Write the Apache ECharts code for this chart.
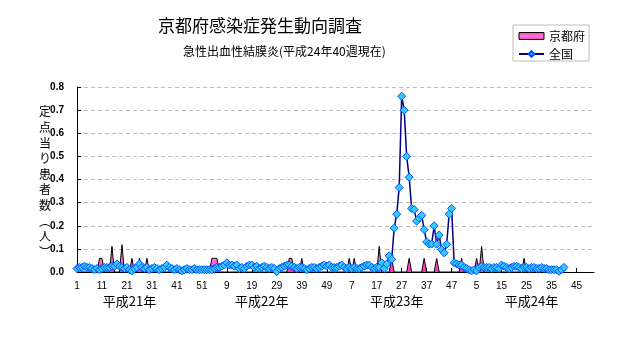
<!DOCTYPE html>
<html>
<head>
<meta charset="utf-8">
<script src="https://cdn.jsdelivr.net/npm/echarts@6/dist/echarts.min.js"></script>
<style>
  html, body { margin: 0; padding: 0; background: #fff; }
  #chart { width: 632px; height: 348px; }
</style>
</head>
<body>
<div id="chart"></div>
<script>
// Surveillance weeks per year on the axis (H21 .. H24)
const yearNames = ['平成21年', '平成22年', '平成23年', '平成24年'];
const weeksPerYear = [52, 52, 52, 52];
// category index under which each year caption sits
const yearLabelIndex = [21, 74, 128, 182];

// Per-sentinel patients, nationwide (全国)
const national2009 = [
  0.015, 0.02, 0.02, 0.025, 0.02, 0.02, 0.015, 0.01, 0.015, 0.01,
  0.015, 0.02, 0.02, 0.02, 0.025, 0.025, 0.035, 0.025, 0.02, 0.015,
  0.02, 0.01, 0.005, 0.015, 0.02, 0.035, 0.02, 0.015, 0.02, 0.01,
  0.015, 0.02, 0.015, 0.01, 0.015, 0.02, 0.03, 0.02, 0.015, 0.01,
  0.015, 0.01, 0.005, 0.01, 0.015, 0.01, 0.01, 0.015, 0.01, 0.01,
  0.01, 0.01
];
const national2010 = [
  0.01, 0.01, 0.01, 0.015, 0.02, 0.02, 0.025, 0.03, 0.04, 0.03,
  0.03, 0.025, 0.03, 0.015, 0.02, 0.015, 0.025, 0.03, 0.03, 0.02,
  0.025, 0.015, 0.02, 0.025, 0.02, 0.015, 0.02, 0.015, 0.002, 0.015,
  0.02, 0.025, 0.03, 0.03, 0.025, 0.02, 0.015, 0.02, 0.02, 0.015,
  0.01, 0.015, 0.02, 0.02, 0.015, 0.02, 0.025, 0.03, 0.025, 0.03,
  0.02, 0.02
];
const national2011 = [
  0.02, 0.025, 0.03, 0.02, 0.015, 0.02, 0.015, 0.02, 0.015, 0.015,
  0.02, 0.025, 0.03, 0.03, 0.02, 0.015, 0.02, 0.02, 0.04, 0.015,
  0.035, 0.07, 0.055, 0.19, 0.25, 0.365, 0.76, 0.70, 0.50, 0.41,
  0.275, 0.27, 0.22, 0.233, 0.245, 0.183, 0.13, 0.121, 0.121, 0.20,
  0.12, 0.16, 0.097, 0.083, 0.12, 0.25, 0.275, 0.04, 0.035, 0.03,
  0.03, 0.02
];
const national2012 = [
  0.015, 0.01, 0.005, 0.01, 0.005, 0.02, 0.025, 0.02, 0.02, 0.02,
  0.015, 0.02, 0.02, 0.015, 0.03, 0.025, 0.02, 0.015, 0.02, 0.025,
  0.025, 0.02, 0.015, 0.02, 0.02, 0.015, 0.02, 0.02, 0.015, 0.015,
  0.02, 0.015, 0.015, 0.01, 0.01, 0.01, 0.01, 0.003, 0.01, 0.02
];

// Per-sentinel patients, Kyoto prefecture (京都府)
const kyoto2009 = [
  0, 0, 0, 0, 0, 0, 0, 0, 0, 0.059,
  0.059, 0, 0, 0, 0.111, 0, 0, 0, 0.118, 0,
  0, 0, 0.059, 0, 0, 0.059, 0, 0, 0.059, 0,
  0, 0, 0, 0, 0, 0, 0, 0, 0, 0,
  0, 0, 0, 0, 0, 0, 0, 0, 0, 0,
  0, 0
];
const kyoto2010 = [
  0, 0, 0.059, 0.059, 0.059, 0, 0, 0, 0, 0,
  0, 0, 0, 0, 0, 0, 0, 0, 0, 0,
  0, 0, 0, 0, 0, 0, 0, 0, 0, 0,
  0, 0, 0, 0.059, 0.059, 0, 0, 0, 0.059, 0,
  0, 0, 0, 0, 0, 0, 0, 0, 0, 0,
  0, 0
];
const kyoto2011 = [
  0, 0, 0, 0, 0, 0.059, 0, 0.059, 0, 0,
  0, 0, 0, 0, 0, 0, 0, 0.111, 0, 0,
  0, 0, 0.059, 0, 0, 0, 0, 0, 0, 0.059,
  0, 0, 0, 0, 0, 0.059, 0, 0, 0, 0,
  0.059, 0, 0, 0, 0, 0, 0, 0, 0, 0,
  0.059, 0
];
const kyoto2012 = [
  0, 0, 0, 0, 0.059, 0, 0.111, 0, 0, 0,
  0, 0, 0, 0, 0, 0, 0, 0, 0, 0,
  0, 0, 0, 0.059, 0, 0, 0, 0, 0, 0,
  0, 0, 0, 0, 0, 0, 0, 0, 0, 0
];

// y-axis scale
const yMin = 0, yMax = 0.8, yStep = 0.1;

// ---- build axis categories: "<yearIndex>-<week>" ----
const categories = [];
weeksPerYear.forEach((n, y) => {
  for (let w = 1; w <= n; w++) categories.push(y + '-' + w);
});
const national = [].concat(national2009, national2010, national2011, national2012);
const kyoto = [].concat(kyoto2009, kyoto2010, kyoto2011, kyoto2012);

const jpFont = '"Noto Sans CJK JP", "Noto Sans", sans-serif';
const numFont = '"Liberation Sans", Arial, sans-serif';

const pinkFill = new echarts.graphic.LinearGradient(0, 0, 0, 1, [
  { offset: 0, color: '#ff2ec4' },
  { offset: 0.5, color: '#ff7ad8' },
  { offset: 1, color: '#ff2ec4' }
]);

const chart = echarts.init(document.getElementById('chart'), null, { renderer: 'canvas' });

chart.setOption({
  animation: false,
  backgroundColor: '#ffffff',
  title: [
    {
      text: '京都府感染症発生動向調査',
      left: 158, top: 17,
      padding: 0,
      textStyle: { fontFamily: jpFont, fontSize: 17, fontWeight: 'normal', color: '#000' }
    },
    {
      text: '急性出血性結膜炎(平成24年40週現在)',
      left: 183, top: 45,
      padding: 0,
      textStyle: { fontFamily: jpFont, fontSize: 12, fontWeight: 'normal', color: '#000' }
    }
  ],
  legend: {
    orient: 'vertical',
    left: 513, top: 25,
    padding: [5, 4, 1, 5],
    itemGap: 6,
    itemWidth: 25,
    itemHeight: 7,
    borderColor: '#bcbcbc',
    borderWidth: 1,
    backgroundColor: '#fff',
    textStyle: { fontFamily: jpFont, fontSize: 12, lineHeight: 12, color: '#000' },
    data: [
      { name: '京都府', icon: 'rect',
        itemStyle: { color: pinkFill, borderColor: '#000', borderWidth: 1 } },
      { name: '全国' }
    ]
  },
  grid: { left: 77, right: 38, top: 87, bottom: 76 },
  xAxis: [
    {
      type: 'category',
      data: categories,
      boundaryGap: false,
      axisLine: { lineStyle: { color: '#000', width: 1 } },
      axisTick: { show: true, inside: true, length: 4, interval: 9,
                  lineStyle: { color: '#000' } },
      axisLabel: {
        interval: 9, margin: 9,
        fontFamily: numFont, fontSize: 10, color: '#000',
        formatter: v => v.split('-')[1]
      },
      splitLine: { show: false }
    },
    {
      type: 'category',
      data: categories,
      boundaryGap: false,
      position: 'bottom',
      axisLine: { show: false },
      axisTick: { show: false },
      axisLabel: {
        margin: 23,
        fontFamily: jpFont, fontSize: 13, color: '#000',
        interval: idx => yearLabelIndex.indexOf(idx) >= 0,
        formatter: (v, idx) => {
          const k = yearLabelIndex.indexOf(idx);
          return k >= 0 ? yearNames[k] : '';
        }
      },
      splitLine: { show: false }
    }
  ],
  yAxis: {
    type: 'value',
    min: yMin, max: yMax, interval: yStep,
    axisLine: { show: true, lineStyle: { color: '#000', width: 1 } },
    axisTick: { show: true, inside: true, length: 4, lineStyle: { color: '#000' } },
    axisLabel: {
      margin: 13,
      fontFamily: numFont, fontSize: 10, fontWeight: 'bold', color: '#000',
      formatter: v => v.toFixed(1)
    },
    splitLine: { show: true, lineStyle: { color: '#bdbdbd', type: [4, 3], width: 1 } }
  },
  graphic: [
    {
      type: 'text',
      left: 39, top: 104,
      style: {
        text: '定\n点\n当\nり\n患\n者\n数\n︵\n人\n︶',
        fontFamily: jpFont, fontSize: 12, lineHeight: 15.6,
        fill: '#000', align: 'center'
      }
    }
  ],
  series: [
    {
      name: '京都府',
      type: 'line',
      data: kyoto,
      symbol: 'none',
      lineStyle: { color: '#000', width: 1 },
      itemStyle: { color: pinkFill, borderColor: '#000' },
      areaStyle: { color: pinkFill, opacity: 1 },
      z: 2
    },
    {
      name: '全国',
      type: 'line',
      data: national,
      symbol: 'diamond',
      symbolSize: 8,
      showAllSymbol: true,
      lineStyle: { color: '#000080', width: 1.5 },
      itemStyle: { color: '#33ccff', borderColor: '#0050ff', borderWidth: 1 },
      z: 3
    }
  ]
});
</script>
</body>
</html>
